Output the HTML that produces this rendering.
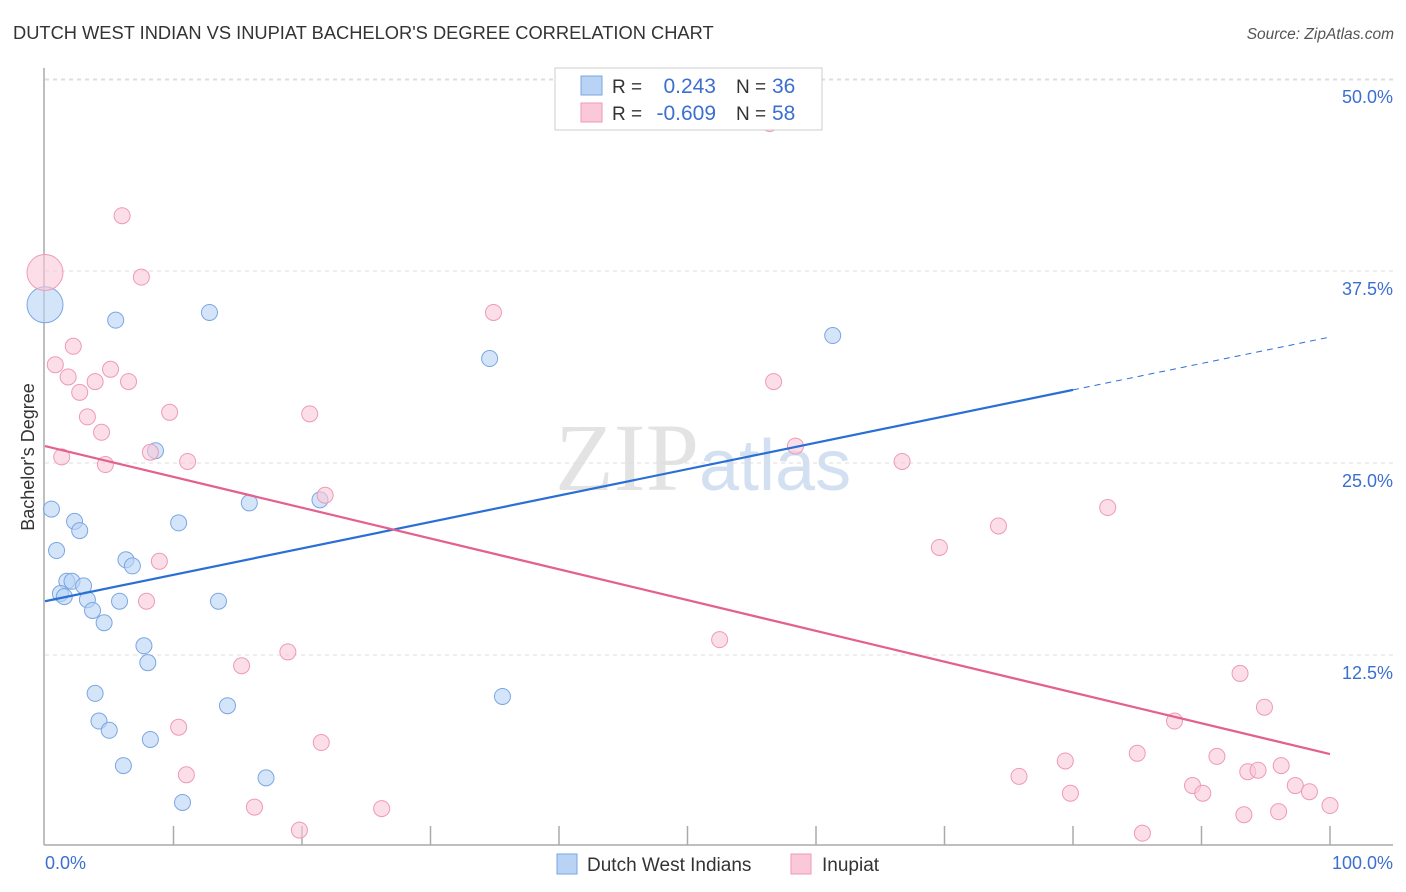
<!DOCTYPE html>
<html><head><meta charset="utf-8">
<style>
body{margin:0;background:#fff;font-family:"Liberation Sans",sans-serif;}
svg{display:block}
</style></head>
<body>
<svg id="chart" width="1406" height="892" xmlns="http://www.w3.org/2000/svg">
<text x="13" y="39" font-size="18.3" fill="#333" font-family="Liberation Sans, sans-serif">DUTCH WEST INDIAN VS INUPIAT BACHELOR'S DEGREE CORRELATION CHART</text>
<text x="1394" y="39" font-size="15.5" fill="#555" font-style="italic" text-anchor="end">Source: ZipAtlas.com</text>
<text x="555" y="490" font-size="96" fill="#ddd" font-family="Liberation Serif, serif" opacity="0.8">ZIP<tspan fill="#c9d9ef" font-family="Liberation Sans, sans-serif" font-size="72">atlas</tspan></text>
<text transform="translate(34,457) rotate(-90)" font-size="18" fill="#333" text-anchor="middle">Bachelor's Degree</text>
<g id="grid"></g>
<g id="axes"></g>
<g id="marks"></g>
<g>
<rect x="555" y="68" width="267" height="62" fill="#fff" stroke="#ccc"/>
<rect x="581" y="76" width="21" height="19" fill="#b9d3f5" stroke="#7aa6e3"/>
<text x="612" y="93" font-size="19" fill="#333">R =</text>
<text x="716" y="93" font-size="21" fill="#3b6fd0" text-anchor="end">0.243</text>
<text x="736" y="93" font-size="19" fill="#333">N =</text>
<text x="772" y="93" font-size="21" fill="#3b6fd0">36</text>
<rect x="581" y="103" width="21" height="19" fill="#fac8d8" stroke="#ee9ab6"/>
<text x="612" y="120" font-size="19" fill="#333">R =</text>
<text x="716" y="120" font-size="21" fill="#3b6fd0" text-anchor="end">-0.609</text>
<text x="736" y="120" font-size="19" fill="#333">N =</text>
<text x="772" y="120" font-size="21" fill="#3b6fd0">58</text>
</g>
<g>
<rect x="557" y="854" width="20" height="20" fill="#b9d3f5" stroke="#7aa6e3"/>
<text x="587" y="871" font-size="19" fill="#333">Dutch West Indians</text>
<rect x="791" y="854" width="20" height="20" fill="#fac8d8" stroke="#ee9ab6"/>
<text x="822" y="871" font-size="19" fill="#333">Inupiat</text>
</g>
</svg>
<script>
const yTicks=[12.5,25,37.5,50];
const yTickLabels=["12.5%","25.0%","37.5%","50.0%"];
const xTickLabels=["0.0%","100.0%"];
const blueX=[0,0.5,0.9,1.7,2.1,1.2,1.5,2.3,2.7,3.0,3.3,3.7,4.6,5.5,6.3,6.8,5.8,8.6,7.7,8.0,3.9,4.2,5.0,6.1,8.2,10.7,10.4,12.8,13.5,14.2,15.9,17.2,21.4,34.6,35.6,61.3];
const blueY=[35.3,22.0,19.3,17.3,17.3,16.5,16.3,21.2,20.6,17.0,16.1,15.4,14.6,34.3,18.7,18.3,16.0,25.8,13.1,12.0,10.0,8.2,7.6,5.3,7.0,2.9,21.1,34.8,16.0,9.2,22.4,4.5,22.6,31.8,9.8,33.3];
const pinkX=[0,0.8,1.3,1.8,2.2,2.7,3.3,3.9,4.4,4.7,5.1,6.0,6.5,7.5,7.9,8.2,8.9,9.7,11.1,10.4,11.0,15.3,16.3,18.9,19.8,20.6,21.5,21.8,26.2,34.9,52.5,56.4,56.7,58.4,66.7,69.6,74.2,75.8,79.4,79.8,82.7,85.0,85.4,87.9,89.3,90.1,91.2,93.0,93.3,93.6,94.4,94.9,96.2,96.0,97.3,98.4,100];
const pinkY=[37.4,31.4,25.4,30.6,32.6,29.6,28.0,30.3,27.0,24.9,31.1,41.1,30.3,37.1,16.0,25.7,18.6,28.3,25.1,7.8,4.7,11.8,2.6,12.7,1.1,28.2,6.8,22.9,2.5,34.8,13.5,47.1,30.3,26.1,25.1,19.5,20.9,4.6,5.6,3.5,22.1,6.1,0.9,8.2,4.0,3.5,5.9,11.3,2.1,4.9,5.0,9.1,5.3,2.3,4.0,3.6,2.7];
const blueTrend=[16.0,33.2];
const pinkTrend=[26.1,6.05];
const NS="http://www.w3.org/2000/svg";
const X=v=>45+v*12.85, Y=v=>847-v*15.36;
function mk(tag,attrs,parent){const e=document.createElementNS(NS,tag);for(const k in attrs)e.setAttribute(k,attrs[k]);document.getElementById(parent).appendChild(e);return e;}
yTicks.forEach((t,i)=>{
 const l=mk('line',{x1:45,x2:1393,y1:Y(t),y2:Y(t),stroke:'#ddd','stroke-dasharray':'4,4'},'grid');
 
 
 const tx=mk('text',{x:1393,y:Y(t)+24,'font-size':18,fill:'#3b6fd0','text-anchor':'end'},'grid');
 tx.textContent=yTickLabels[i];
 
 
});
const topl=mk('line',{x1:45,x2:1393,y1:80,y2:80,stroke:'#ddd','stroke-dasharray':'4,4'},'grid');


const ya=mk('line',{x1:44,x2:44,y1:68,y2:845,stroke:'#aaa','stroke-width':1.5},'axes');


const xa=mk('line',{x1:44,x2:1393,y1:845,y2:845,stroke:'#aaa','stroke-width':1.5},'axes');


for(let i=1;i<=10;i++){
 const t=mk('line',{x1:X(i*10),x2:X(i*10),y1:826,y2:845,stroke:'#aaa','stroke-width':1.5},'axes');
 
 
}
[[0,'start',45],[1,'end',1393]].forEach(([i,a,x])=>{
 const t=mk('text',{x:x,y:869,'font-size':18,fill:'#3b6fd0','text-anchor':a},'axes');
 t.textContent=xTickLabels[i];
 
 
});
function dots(xs,ys,fill,stroke,name){
 xs.forEach((x,i)=>{
  const r=i===0?18:8;
  const c=mk('circle',{cx:X(x),cy:Y(ys[i]),r:r,fill:fill,stroke:stroke,'stroke-width':1,'fill-opacity':0.6},'marks');
  
  
 });
}
dots(blueX,blueY,'#b9d3f5','#7aa6e3','dutch-west-indian-point');
dots(pinkX,pinkY,'#fac8d8','#ee9ab6','inupiat-point');
const bEnd=80, bY=blueTrend[0]+(blueTrend[1]-blueTrend[0])*bEnd/100;
const b1=mk('line',{x1:X(0),y1:Y(blueTrend[0]),x2:X(bEnd),y2:Y(bY),stroke:'#2a6fd6','stroke-width':2.2},'marks');


const b2=mk('line',{x1:X(bEnd),y1:Y(bY),x2:X(100),y2:Y(blueTrend[1]),stroke:'#2a6fd6','stroke-width':1,'stroke-dasharray':'6,5'},'marks');


const p1=mk('line',{x1:X(0),y1:Y(pinkTrend[0]),x2:X(100),y2:Y(pinkTrend[1]),stroke:'#e4608f','stroke-width':2.2},'marks');


</script>
</body></html>
